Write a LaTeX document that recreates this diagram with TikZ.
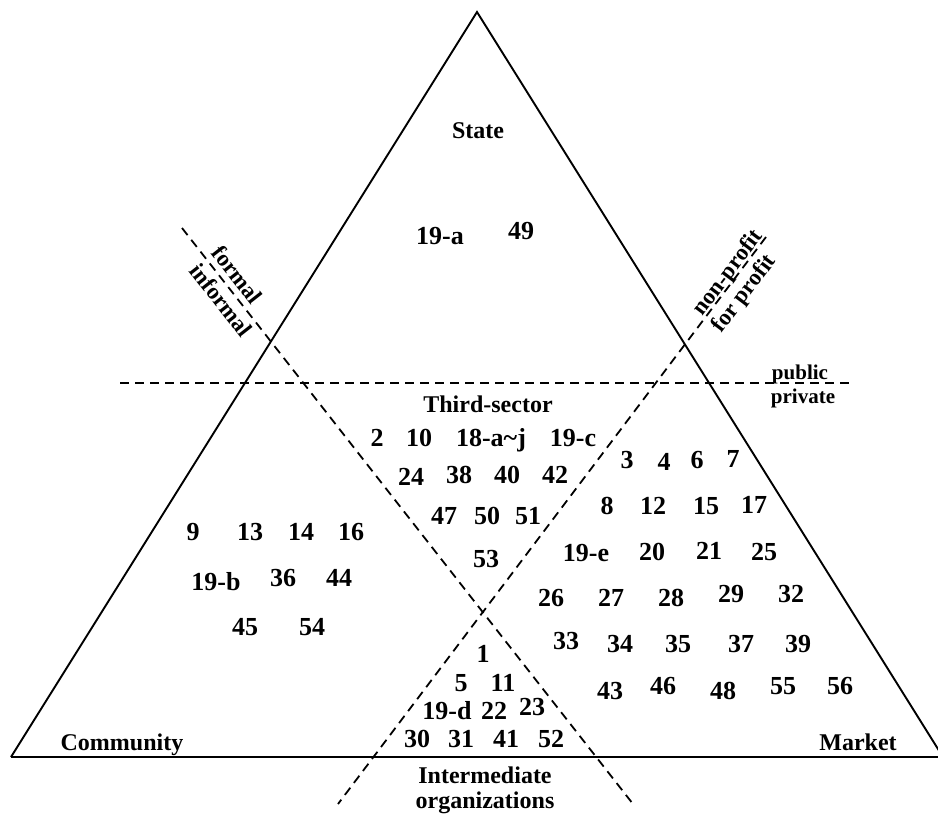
\documentclass[tikz,border=0pt]{standalone}
\usepackage{fontspec}
\setmainfont{Liberation Serif}
\begin{document}
\begin{tikzpicture}[x=1pt,y=-1pt,
  side/.style={line width=1.9pt, line join=miter},
  divider/.style={line width=1.8pt, dash pattern=on 9pt off 6pt},
  num/.style={font=\fontsize{26}{28}\selectfont\bfseries, inner sep=0pt, text height=17.7pt, text depth=0pt},
  lbl/.style={font=\fontsize{24}{27}\selectfont\bfseries, inner sep=0pt, text height=16pt, text depth=0pt},
  tag/.style={font=\fontsize{21}{24}\selectfont\bfseries, inner sep=0pt, text height=14pt, text depth=0pt},
  slant/.style={font=\fontsize{23}{26}\selectfont\bfseries, inner sep=0pt, text height=15.2pt, text depth=0pt}]
\useasboundingbox (0,0) rectangle (938,814);
\clip (0,0) rectangle (938,814);

% corners of the triangle and end points of the dividing lines
\coordinate (apex) at (477,12);
\coordinate (lcorner) at (11,757);
\coordinate (rcorner) at (943,757);
\coordinate (baseend) at (938,757);
\coordinate (pubL) at (120,383);
\coordinate (pubR) at (850,383);
\coordinate (formA) at (182,228);
\coordinate (formB) at (633,804);
\coordinate (profA) at (766,237);
\coordinate (profB) at (338,804);

% triangle
\draw[side] (lcorner) -- (apex) -- (rcorner);
\draw[line width=2.3pt] (lcorner) -- (baseend);

% dividing lines
\draw[divider] (pubL) -- (pubR);
\draw[divider] (formA) -- (formB);
\draw[divider] (profA) -- (profB);

% divider captions
\node[tag] (public) at (800,372) {public};
\node[tag] (private) at (803,396) {private};
\node[slant, rotate=-51.9] (formal) at (237,275) {formal};
\node[slant, rotate=-51.9] (informal) at (221,300) {informal};
\node[slant, rotate=52.9] (nonprofit) at (727,272) {non-profit};
\node[slant, rotate=52.9] (forprofit) at (743,293) {for profit};

% sector names
\node[lbl] (state) at (478,130) {State};
\node[lbl] (third) at (488,404) {Third-sector};
\node[lbl] (community) at (122,742) {Community};
\node[lbl] (market) at (858,742) {Market};
\node[lbl] (inter) at (485,775) {Intermediate};
\node[lbl] (orgs) at (485,800) {organizations};

% State
\node[num] (n19a) at (440,236) {19-a};
\node[num] (n49) at (521,231) {49};

% Third sector
\node[num] (n2) at (377,438) {2};
\node[num] (n10) at (419,438) {10};
\node[num] (n18) at (491,438) {18-a\char"007E j};
\node[num] (n19c) at (573,438) {19-c};
\node[num] (n24) at (411,477) {24};
\node[num] (n38) at (459,475) {38};
\node[num] (n40) at (507,475) {40};
\node[num] (n42) at (555,475) {42};
\node[num] (n47) at (444,516) {47};
\node[num] (n50) at (487,516) {50};
\node[num] (n51) at (528,516) {51};
\node[num] (n53) at (486,559) {53};

% Market
\node[num] (n3) at (627,460) {3};
\node[num] (n4) at (664,462) {4};
\node[num] (n6) at (697,460) {6};
\node[num] (n7) at (733,459) {7};
\node[num] (n8) at (607,506) {8};
\node[num] (n12) at (653,506) {12};
\node[num] (n15) at (706,506) {15};
\node[num] (n17) at (754,505) {17};
\node[num] (n19e) at (586,553) {19-e};
\node[num] (n20) at (652,552) {20};
\node[num] (n21) at (709,551) {21};
\node[num] (n25) at (764,552) {25};
\node[num] (n26) at (551,598) {26};
\node[num] (n27) at (611,598) {27};
\node[num] (n28) at (671,598) {28};
\node[num] (n29) at (731,594) {29};
\node[num] (n32) at (791,594) {32};
\node[num] (n33) at (566,641) {33};
\node[num] (n34) at (620,644) {34};
\node[num] (n35) at (678,644) {35};
\node[num] (n37) at (741,644) {37};
\node[num] (n39) at (798,644) {39};
\node[num] (n43) at (610,691) {43};
\node[num] (n46) at (663,686) {46};
\node[num] (n48) at (723,691) {48};
\node[num] (n55) at (783,686) {55};
\node[num] (n56) at (840,686) {56};

% Community
\node[num] (n9) at (193,532) {9};
\node[num] (n13) at (250,532) {13};
\node[num] (n14) at (301,532) {14};
\node[num] (n16) at (351,532) {16};
\node[num] (n19b) at (216,582) {19-b};
\node[num] (n36) at (283,578) {36};
\node[num] (n44) at (339,578) {44};
\node[num] (n45) at (245,627) {45};
\node[num] (n54) at (312,627) {54};

% Intermediate organizations
\node[num] (n1) at (483,654) {1};
\node[num] (n5) at (461,683) {5};
\node[num] (n11) at (503,683) {11};
\node[num] (n19d) at (447,711) {19-d};
\node[num] (n22) at (494,711) {22};
\node[num] (n23) at (532,707) {23};
\node[num] (n30) at (417,739) {30};
\node[num] (n31) at (461,739) {31};
\node[num] (n41) at (506,739) {41};
\node[num] (n52) at (551,739) {52};
\end{tikzpicture}
\end{document}
